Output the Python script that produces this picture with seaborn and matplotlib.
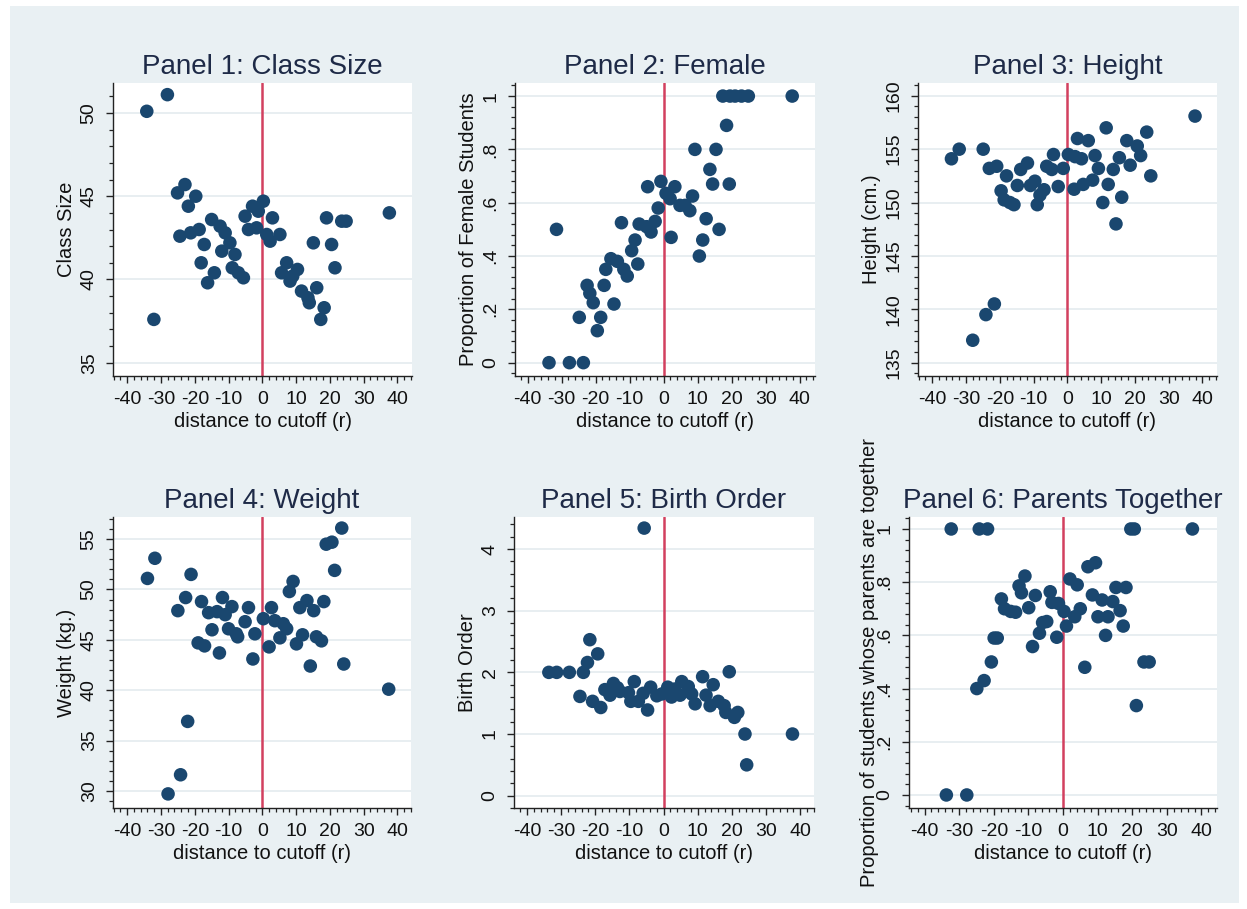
import numpy as np
import pandas as pd
import matplotlib
matplotlib.use("Agg")
import matplotlib.pyplot as plt
import seaborn as sns
from matplotlib.ticker import MultipleLocator, FixedLocator, FixedFormatter
from matplotlib.patches import Rectangle

# ---------------- data ----------------
p1_x = [-34.2, -28.1, -32.1, -25.1, -22.9, -19.7, -21.9, -24.4, -21.2, -18.7, -17.2, -15.0, -12.5,
        -11.0, -9.6, -12.0, -8.1, -18.1, -14.2, -16.2, -8.9, -7.1, -5.6, -5.1, -2.9, -1.2, 0.3,
        -4.1, -1.7, 1.3, 2.3, 5.2, 3.0, 7.2, 5.7, 10.4, 8.2, 11.6, 16.1, 13.9, 18.3, 17.3, 15.1,
        19.0, 20.5, 21.5, 23.5, 24.8, 37.6, 9.0, 13.5]
p1_y = [50.1, 51.1, 37.6, 45.2, 45.7, 45.0, 44.4, 42.6, 42.8, 43.0, 42.1, 43.6, 43.2,
        42.8, 42.2, 41.7, 41.5, 41.0, 40.4, 39.8, 40.7, 40.4, 40.1, 43.8, 44.4, 44.1, 44.7,
        43.0, 43.1, 42.7, 42.3, 42.7, 43.7, 41.0, 40.4, 40.6, 39.9, 39.3, 39.5, 38.6, 38.3, 37.6, 42.2,
        43.7, 42.1, 40.7, 43.5, 43.5, 44.0, 40.2, 38.9]

p2_x = [-33.7, -27.7, -23.6, -31.5, -24.8, -19.5, -18.5, -22.5, -21.7, -20.7, -17.5, -14.6, -17.0,
        -15.5, -13.6, -11.7, -10.7, -7.6, -9.4, -8.4, -12.4, -7.2, -5.0, -3.7, -2.5, -1.6, -4.7,
        -0.8, 0.7, 3.3, 1.9, 4.8, 6.3, 7.7, 8.5, 2.2, 9.2, 15.4, 13.6, 14.4, 19.3, 12.5, 16.3,
        11.5, 10.5, 18.5, 17.4, 19.5, 21.0, 22.9, 24.9, 37.8]
p2_y = [0.0, 0.0, 0.0, 0.50, 0.17, 0.12, 0.17, 0.29, 0.26, 0.225, 0.29, 0.22, 0.35,
        0.39, 0.38, 0.35, 0.325, 0.37, 0.42, 0.46, 0.525, 0.52, 0.51, 0.49, 0.53, 0.58, 0.66,
        0.68, 0.635, 0.66, 0.615, 0.59, 0.59, 0.57, 0.625, 0.47, 0.80, 0.80, 0.725, 0.67, 0.67, 0.54, 0.50,
        0.46, 0.40, 0.89, 1.0, 1.0, 1.0, 1.0, 1.0, 1.0]

p3_x = [-34.3, -32.0, -24.9, -28.0, -24.1, -21.6, -23.1, -20.9, -18.0, -19.6, -18.7, -15.8, -14.8,
        -13.8, -11.8, -10.9, -9.6, -8.9, -8.1, -6.9, -6.1, -4.1, -4.6, -2.7, -1.2, 0.3, 2.3,
        4.2, 2.0, 4.7, 7.5, 3.0, 6.2, 8.2, 9.2, 11.5, 12.1, 10.5, 13.6, 16.1, 14.4, 15.4,
        17.6, 20.7, 18.6, 21.7, 23.5, 24.7, 37.8, -17.0]
p3_y = [154.1, 155.0, 155.0, 137.1, 139.5, 140.5, 153.2, 153.4, 152.5, 151.1, 150.25, 149.8, 151.6,
        153.1, 153.7, 151.6, 152.0, 149.8, 150.7, 151.2, 153.4, 154.5, 153.1, 151.5, 153.2, 154.5, 154.3,
        154.1, 151.25, 151.7, 152.1, 156.0, 155.8, 154.4, 153.2, 157.0, 151.7, 150.0, 153.1, 150.5, 148.0, 154.2,
        155.8, 155.3, 153.5, 154.4, 156.6, 152.5, 158.1, 150.0]

p4_x = [-34.0, -31.8, -21.1, -22.7, -25.0, -22.1, -24.2, -27.9, -18.0, -15.9, -13.4, -11.8, -11.0,
        -9.0, -14.9, -10.0, -7.7, -7.3, -19.0, -17.1, -12.7, -4.1, -5.1, -2.2, -2.8, 0.3, 2.7,
        3.7, 6.2, 7.2, 5.2, 2.0, 8.0, 9.1, 11.1, 13.2, 15.2, 11.9, 10.1, 16.0, 17.5, 14.2,
        18.2, 18.9, 20.6, 21.4, 23.5, 24.1, 37.4]
p4_y = [51.1, 53.1, 51.5, 49.2, 47.9, 36.9, 31.6, 29.7, 48.8, 47.7, 47.8, 49.2, 47.5,
        48.3, 46.0, 46.1, 45.6, 45.3, 44.7, 44.4, 43.7, 48.2, 46.8, 45.6, 43.1, 47.1, 48.2,
        46.9, 46.6, 46.1, 45.2, 44.3, 49.8, 50.8, 48.2, 48.9, 47.9, 45.5, 44.6, 45.3, 44.9, 42.4,
        48.8, 54.5, 54.7, 51.9, 56.1, 42.6, 40.1]

p5_x = [-5.7, -33.6, -31.3, -27.6, -23.5, -22.3, -21.6, -19.3, -24.5, -20.8, -18.4, -17.2, -14.7,
        -15.7, -12.8, -10.3, -8.6, -9.6, -7.4, -4.7, -6.0, -3.8, -2.0, 1.2, 2.3, 3.3, 5.3,
        4.8, 7.2, 8.2, 9.2, 11.4, 12.4, 14.5, 13.6, 16.0, 17.7, 18.2, 19.2, 20.7, 21.7,
        23.8, 24.3, 37.7, -0.5, -13.5]
p5_y = [4.34, 2.0, 2.0, 2.0, 2.0, 2.16, 2.53, 2.30, 1.61, 1.53, 1.43, 1.72, 1.82,
        1.63, 1.69, 1.67, 1.85, 1.53, 1.53, 1.39, 1.66, 1.76, 1.62, 1.76, 1.60, 1.73, 1.85,
        1.63, 1.77, 1.65, 1.49, 1.93, 1.63, 1.80, 1.46, 1.53, 1.46, 1.35, 2.01, 1.27, 1.35,
        1.0, 0.50, 1.0, 1.65, 1.75]

p6_x = [-32.3, -24.2, -21.8, -33.7, -27.8, -24.9, -22.8, -20.7, -19.9, -19.0, -17.8, -16.9, -15.1,
        -13.7, -12.7, -12.0, -11.0, -9.9, -8.0, -8.8, -6.8, -5.9, -4.7, -3.7, -3.2, -1.3, -1.8,
        0.3, 1.0, 2.0, 4.1, 3.4, 5.0, 6.3, 7.2, 9.4, 8.5, 10.1, 11.3, 13.0, 12.3, 14.4,
        15.3, 16.5, 18.2, 17.4, 19.6, 20.6, 21.2, 23.4, 24.9, 37.4]
p6_y = [1.0, 1.0, 1.0, 0.0, 0.0, 0.40, 0.43, 0.50, 0.59, 0.59, 0.737, 0.70, 0.69,
        0.687, 0.786, 0.76, 0.823, 0.704, 0.75, 0.558, 0.608, 0.648, 0.652, 0.764, 0.724, 0.72, 0.593,
        0.69, 0.635, 0.812, 0.79, 0.67, 0.70, 0.48, 0.858, 0.873, 0.752, 0.67, 0.733, 0.67, 0.60, 0.727,
        0.78, 0.693, 0.78, 0.635, 1.0, 1.0, 0.336, 0.50, 0.50, 1.0]

titles = ["Panel 1: Class Size", "Panel 2: Female", "Panel 3: Height",
          "Panel 4: Weight", "Panel 5: Birth Order", "Panel 6: Parents Together"]
ylabels = ["Class Size", "Proportion of Female Students", "Height (cm.)",
           "Weight (kg.)", "Birth Order", "Proportion of students whose parents are together"]
xlabel = "distance to cutoff (r)"
x_ticks = [-40, -30, -20, -10, 0, 10, 20, 30, 40]
y_ticks = [[35, 40, 45, 50], [0, .2, .4, .6, .8, 1], [135, 140, 145, 150, 155, 160],
           [30, 35, 40, 45, 50, 55], [0, 1, 2, 3, 4], [0, .2, .4, .6, .8, 1]]
y_ticklabels = [["35", "40", "45", "50"], ["0", ".2", ".4", ".6", ".8", "1"],
                ["135", "140", "145", "150", "155", "160"],
                ["30", "35", "40", "45", "50", "55"], ["0", "1", "2", "3", "4"],
                ["0", ".2", ".4", ".6", ".8", "1"]]

# ---------------- styling ----------------
sns.set_theme(style="white")
plt.rcParams['font.family'] = ['Liberation Sans', 'DejaVu Sans']
plt.rcParams['axes.unicode_minus'] = False

W, H = 1247, 909
BG = "#E9F0F3"
NAVY = "#1A476F"
RED = "#D2405F"
TITLE_C = "#1E2A47"

fig = plt.figure(figsize=(W / 100, H / 100), dpi=100)
fig.patch.set_facecolor("white")
fig.add_artist(Rectangle((10 / W, 6 / H), (W - 18) / W, (H - 12) / H,
                         transform=fig.transFigure, facecolor=BG, edgecolor="none", zorder=-10))

# pixel boxes: left, right, top, bottom
boxes = [(113, 412, 83, 376), (515, 815, 83, 376), (918, 1217, 83, 376),
         (113, 411, 517, 808), (514, 814, 517, 808), (909, 1217, 517, 808)]
ylims = [(34.2, 51.8), (-0.05, 1.049), (133.75, 161.2), (28.3, 57.2), (-0.2, 4.52), (-0.049, 1.045)]
xlims = [(-44.2, 44.3), (-43.7, 44.5), (-44.2, 44.3), (-44.2, 44.0), (-43.8, 44.0), (-44.5, 44.5)]
xs = [p1_x, p2_x, p3_x, p4_x, p5_x, p6_x]
ys = [p1_y, p2_y, p3_y, p4_y, p5_y, p6_y]
ylabel_off = [-37, -37, -37, -37, -37, -30]

for i in range(6):
    l, r, t, b = boxes[i]
    ax = fig.add_axes([l / W, (H - b) / H, (r - l) / W, (b - t) / H])
    ax.set_facecolor("white")
    df = pd.DataFrame({"r": xs[i], "v": ys[i]})
    ax.axvline(0, color=RED, lw=1.8, zorder=2)
    sns.scatterplot(data=df, x="r", y="v", ax=ax, color=NAVY, s=95,
                    edgecolor="none", linewidth=0, zorder=3)
    ax.set_xlim(*xlims[i])
    ax.set_ylim(*ylims[i])
    ax.xaxis.set_major_locator(FixedLocator(x_ticks))
    ax.xaxis.set_minor_locator(MultipleLocator(2))
    ax.yaxis.set_major_locator(FixedLocator(y_ticks[i]))
    ax.yaxis.set_major_formatter(FixedFormatter(y_ticklabels[i]))
    step = y_ticks[i][1] - y_ticks[i][0]
    ax.yaxis.set_minor_locator(MultipleLocator(step / 5))
    for s in ["top", "right"]:
        ax.spines[s].set_visible(False)
    for s in ["left", "bottom"]:
        ax.spines[s].set_color("#222222")
        ax.spines[s].set_linewidth(1.0)
    ax.grid(True, axis="y", which="major", color="#E6EDF0", lw=1.3, zorder=0)
    ax.set_axisbelow(True)
    ax.tick_params(axis="both", which="major", direction="out", length=5, width=1.0,
                   color="#222222", labelsize=14, labelcolor="#111111", left=True, bottom=True)
    ax.tick_params(axis="both", which="minor", direction="out", length=2.6, width=0.9,
                   color="#222222", left=True, bottom=True)
    ax.tick_params(axis="x", which="major", pad=6)
    ax.tick_params(axis="y", which="major", pad=6)
    for lab in ax.get_yticklabels():
        lab.set_rotation(90)
        lab.set_va("center")
    ax.set_xlabel(xlabel, fontsize=14.5, color="#111111", labelpad=3)
    ax.set_ylabel(ylabels[i], fontsize=14.5, color="#111111")
    ax.yaxis.set_label_coords(ylabel_off[i] / (r - l), 0.5)
    ax.set_title(titles[i], fontsize=20, color=TITLE_C, pad=6.5)

fig.savefig("out.png", dpi=100, facecolor=fig.get_facecolor())
